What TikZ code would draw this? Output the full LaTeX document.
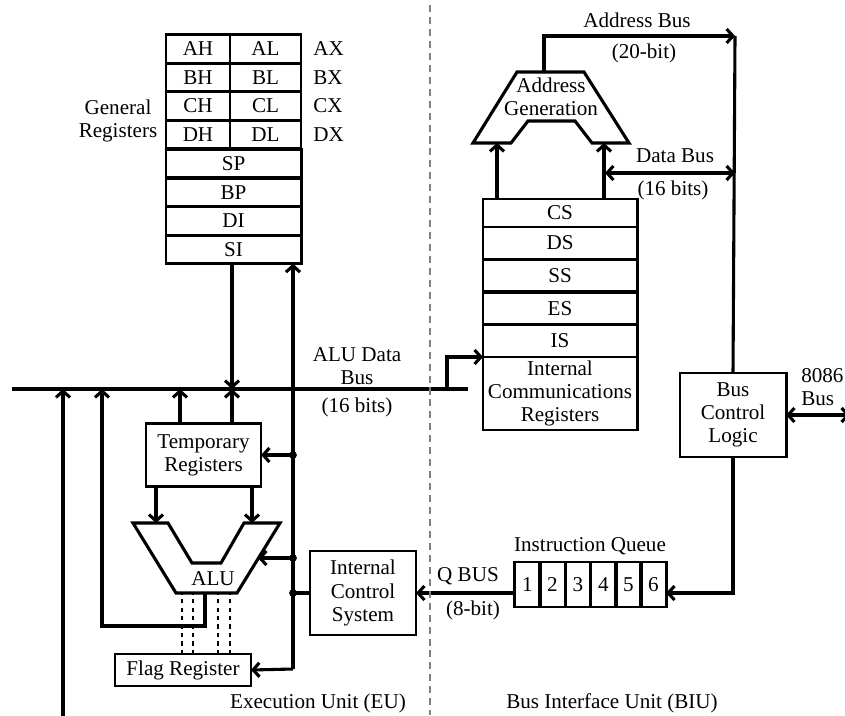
\documentclass[tikz,border=0pt]{standalone}
\usepackage{fontspec}
\setmainfont{Liberation Serif}
\usetikzlibrary{arrows.meta, positioning, calc}
\tikzset{
  reg/.style = {
    rectangle, draw=black, line width=2.1pt, outer sep=0pt, inner sep=0pt,
    minimum height=0.71cm, text centered, font=\fontsize{15}{16.4}\selectfont
  },
  box/.style = {
    rectangle, draw=black, line width=2.1pt, outer sep=0pt, inner sep=0pt,
    align=center, font=\fontsize{15}{16.4}\selectfont
  },
  txt/.style = {inner sep=0pt, align=center, font=\fontsize{15}{16.4}\selectfont},
  bus/.style = {line width=2.2pt},
  myarrow/.style = {-{Straight Barb[length=4.5pt,width=10pt]}, line width=2.2pt},
  dblarrow/.style = {{Straight Barb[length=4.5pt,width=10pt]}-{Straight Barb[length=4.5pt,width=10pt]}, line width=2.2pt},
  flagline/.style = {dashed, line width=1.3pt},
  divider/.style = {gray, line width=1.1pt, dash pattern=on 5pt off 3.5pt},
  junction/.style = {circle, fill=black, inner sep=0pt, minimum size=5.5pt}
}

\begin{document}
\begin{tikzpicture}[x=0.025cm, y=-0.025cm]
  \useasboundingbox (0,0) rectangle (845,715);

  % General registers
  \node[reg, minimum width=1.6cm]   (AH) at (198,49)    {AH};
  \node[reg, minimum width=1.775cm] (AL) at (265.5,49)  {AL};
  \node[reg, minimum width=1.6cm]   (BH) at (198,77.5)  {BH};
  \node[reg, minimum width=1.775cm] (BL) at (265.5,77.5){BL};
  \node[reg, minimum width=1.6cm]   (CH) at (198,106)   {CH};
  \node[reg, minimum width=1.775cm] (CL) at (265.5,106) {CL};
  \node[reg, minimum width=1.6cm]   (DH) at (198,134.5) {DH};
  \node[reg, minimum width=1.775cm] (DL) at (265.5,134.5){DL};
  \node[reg, minimum width=3.375cm] (SP) at (233.5,163.5){SP};
  \node[reg, minimum width=3.375cm] (BP) at (233.5,192.5){BP};
  \node[reg, minimum width=3.375cm] (DI) at (233.5,221)  {DI};
  \node[reg, minimum width=3.375cm] (SI) at (233.5,249.5){SI};
  \node[txt, right=0.3cm of AL] (AX) {AX};
  \node[txt, right=0.3cm of BL] (BX) {BX};
  \node[txt, right=0.3cm of CL] (CX) {CX};
  \node[txt, right=0.3cm of DL] (DX) {DX};
  \node[txt] (genreg) at (118,121) {General\\Registers};

  % Segment registers
  \node[reg, minimum width=3.85cm, minimum height=0.7cm]   (CS) at (560,213)   {CS};
  \node[reg, minimum width=3.85cm, minimum height=0.8cm]   (DS) at (560,243)   {DS};
  \node[reg, minimum width=3.85cm, minimum height=0.82cm]  (SS) at (560,275.5) {SS};
  \node[reg, minimum width=3.85cm, minimum height=0.82cm]  (ES) at (560,308.5) {ES};
  \node[reg, minimum width=3.85cm, minimum height=0.8cm]   (IS) at (560,341)   {IS};
  \node[box, minimum width=3.85cm, minimum height=1.825cm] (ICR) at (560,393.5)
    {Internal\\Communications\\Registers};

  % Address generation adder
  \draw[bus] (517,72) -- (584,72) -- (629,143) -- (592,143) -- (575,121)
    -- (528,121) -- (511,143) -- (473,143) -- cycle;
  \node[txt] (addrgen) at (551,97) {Address\\Generation};
  \coordinate (agTop) at (544,72);
  \coordinate (agInL) at (497,143);
  \coordinate (agInR) at (604,143);

  % BIU boxes
  \node[box, minimum width=2.65cm, minimum height=2.1cm] (bcl) at (733,415)
    {Bus\\Control\\Logic};
  \node[reg, minimum width=0.63cm, minimum height=1.125cm] (q1) at (527.5,584.5) {1};
  \node[reg, minimum width=0.63cm, minimum height=1.125cm] (q2) at (552.5,584.5) {2};
  \node[reg, minimum width=0.63cm, minimum height=1.125cm] (q3) at (578,584.5)   {3};
  \node[reg, minimum width=0.63cm, minimum height=1.125cm] (q4) at (603.5,584.5) {4};
  \node[reg, minimum width=0.63cm, minimum height=1.125cm] (q5) at (628.5,584.5) {5};
  \node[reg, minimum width=0.63cm, minimum height=1.125cm] (q6) at (653.5,584.5) {6};
  \node[txt] (iqlabel) at (590,546) {Instruction Queue};

  % EU boxes
  \node[box, minimum width=2.875cm, minimum height=1.575cm] (temp) at (203.5,455)
    {Temporary\\Registers};
  \node[box, minimum width=2.65cm, minimum height=2.1cm] (ics) at (363,593)
    {Internal\\Control\\System};
  \node[box, minimum width=3.4cm, minimum height=0.8cm] (flag) at (183,670)
    {Flag Register};

  % ALU
  \draw[bus] (133,523) -- (168,523) -- (192,563) -- (221,563) -- (244,523)
    -- (280,523) -- (237,593) -- (176,593) -- cycle;
  \node[txt] (alu) at (213,579) {ALU};
  \coordinate (aluInL) at (156,523);
  \coordinate (aluInR) at (252,523);
  \coordinate (aluCtl) at (258,558);
  \coordinate (aluOut) at (205,593);

  % ALU data bus
  \coordinate (busL) at (12,389);
  \coordinate (busR) at (468,389);
  \coordinate (bA) at (63,389);
  \coordinate (bB) at (102,389);
  \coordinate (bC) at (180,389);
  \coordinate (bD) at (232,389);
  \coordinate (bot) at (0,720);
  \draw[bus] (busL) -- (busR);
  \draw[myarrow] ($(busR)+(-21,0)$) |- (IS.south west);
  \draw[myarrow] (SI.south -| bD) -- (bD);
  \draw[myarrow] (temp.north -| bD) -- (bD);
  \draw[myarrow] (temp.north -| bC) -- (bC);
  \draw[myarrow] (bA |- bot) -- (bA);
  \draw[myarrow] (aluOut) -- ++(0,33) -| (bB);
  \draw[myarrow] (temp.south -| aluInL) -- (aluInL);
  \draw[myarrow] (temp.south -| aluInR) -- (aluInR);
  \draw[bus] ($(flag.south)+(17,0)$) -- ($(flag.south)+(17,0)$ |- bot);

  % ALU to flags
  \draw[flagline] ($(flag.north)+(-1,0)$) -- +(0,-61);
  \draw[flagline] ($(flag.north)+(10,0)$) -- +(0,-61);
  \draw[flagline] ($(flag.north)+(35,0)$) -- +(0,-61);
  \draw[flagline] ($(flag.north)+(47,0)$) -- +(0,-61);

  % Control lines
  \coordinate (ctl) at (293,669);
  \draw[myarrow] (ctl) -- (SI.south -| ctl);
  \draw[myarrow] (ctl) -- (flag.east);
  \draw[myarrow] (temp.east -| ctl) -- (temp.east);
  \draw[myarrow] (aluCtl -| ctl) -- (aluCtl);
  \draw[bus] (ics.west) -- (ics.west -| ctl);
  \node[junction] (j1) at (temp.east -| ctl) {};
  \node[junction] (j2) at (aluCtl -| ctl) {};
  \node[junction] (j3) at (ics.west -| ctl) {};

  % BIU buses
  \coordinate (abus) at (735,36);
  \coordinate (dbL) at (605,173);
  \draw[myarrow] (agTop) |- (abus);
  \draw[bus] (abus) -- (bcl.north);
  \draw[dblarrow] (dbL) -- (dbL -| abus);
  \draw[myarrow] (CS.north -| agInL) -- (agInL);
  \draw[myarrow] (CS.north -| agInR) -- (agInR);
  \draw[myarrow] (bcl.south) |- (q6.east |- ics.east);
  \draw[myarrow] (q1.west |- ics.east) -- (ics.east);
  \draw[dblarrow] (bcl.east) -- ++(64,0);

  % Divider
  \coordinate (divT) at (430,5);
  \coordinate (divB) at (430,715);
  \draw[divider] (divT) -- (divB);

  % Bus labels
  \node[txt] (ablabel) at (637,20) {Address Bus};
  \node[txt] (abwidth) at (644,53) {(20-bit)};
  \node[txt] (dblabel) at (675,156) {Data Bus};
  \node[txt] (dbwidth) at (673,190) {(16 bits)};
  \node[txt] (alulabel) at (357,366) {ALU Data\\Bus};
  \node[txt] (aluwidth) at (357,407) {(16 bits)};
  \node[txt] (qblabel) at (468,576) {Q BUS};
  \node[txt] (qbwidth) at (473,610) {(8-bit)};
  \node[txt, anchor=west, align=left] (extbus) at (801,387) {8086\\Bus};
  \node[txt] (eulabel) at (318,703) {Execution Unit (EU)};
  \node[txt] (biulabel) at (612,703) {Bus Interface Unit (BIU)};
\end{tikzpicture}
\end{document}
